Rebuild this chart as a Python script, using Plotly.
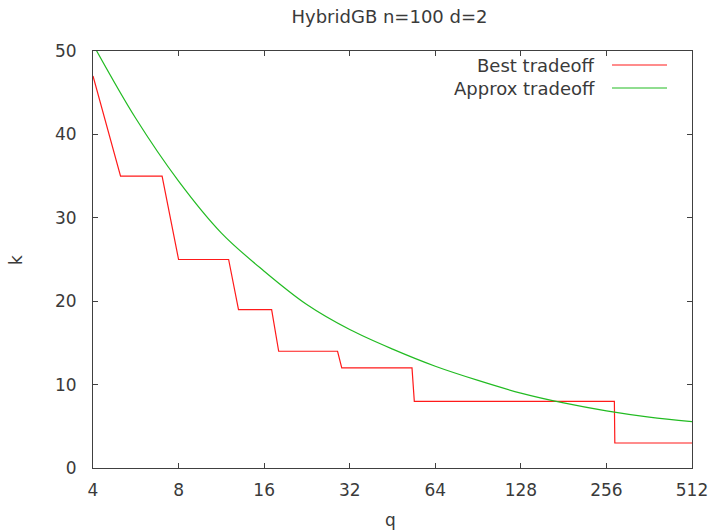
import plotly.graph_objects as go

# Best tradeoff (red step line)
best_q = [4, 5, 7, 8, 12, 13, 17, 18, 29, 30, 53, 54, 273, 274, 512]
best_k = [47, 35, 35, 25, 25, 19, 19, 14, 14, 12, 12, 8, 8, 3, 3]

# Approx tradeoff (green curve)
approx_q = [4, 5.66, 8, 11.3, 16, 22.6, 32, 45.3, 64, 90.5, 128, 181, 256, 362, 512]
approx_k = [50.8, 41.9, 34.4, 28.2, 23.6, 19.6, 16.6, 14.25, 12.2, 10.5, 8.98, 7.8, 6.85, 6.1, 5.55]

x_ticks = [4, 8, 16, 32, 64, 128, 256, 512]
x_tick_text = [str(v) for v in x_ticks]
y_ticks = [0, 10, 20, 30, 40, 50]

series_names = ["Best tradeoff", "Approx tradeoff"]
series_colors = ["#ff1a1a", "#22bb22"]

FONT = "DejaVu Sans"
TXT = "#3a3a3a"
AX = "#404040"

fig = go.Figure()
fig.add_trace(go.Scatter(x=best_q, y=best_k, mode="lines", name=series_names[0],
                         line=dict(color=series_colors[0], width=1.2), showlegend=False))
fig.add_trace(go.Scatter(x=approx_q, y=approx_k, mode="lines", name=series_names[1],
                         line=dict(color=series_colors[1], width=1.2, shape="spline", smoothing=1.0),
                         showlegend=False))

W, H = 711, 531
ml, mr, mt, mb = 93, 19, 51, 63
pw, ph = W - ml - mr, H - mt - mb

def px_x(px):
    return (px - ml) / pw

def px_y(py):
    return (H - mb - py) / ph

annotations = [
    dict(text="k", x=px_x(16), y=px_y(260), xref="paper", yref="paper", showarrow=False,
         textangle=-90, font=dict(family=FONT, size=17, color=TXT), xanchor="center", yanchor="middle"),
    dict(text="q", x=px_x(390.5), y=px_y(520), xref="paper", yref="paper", showarrow=False,
         font=dict(family=FONT, size=17, color=TXT), xanchor="center", yanchor="middle"),
]
shapes = []
legend_rows = [65, 88]
for name, color, ry in zip(series_names, series_colors, legend_rows):
    annotations.append(dict(text=name, x=px_x(597), y=px_y(ry), xref="paper", yref="paper",
                            showarrow=False, xanchor="right", yanchor="middle",
                            font=dict(family=FONT, size=18, color=TXT)))
    shapes.append(dict(type="line", xref="paper", yref="paper",
                       x0=px_x(612), x1=px_x(667), y0=px_y(ry), y1=px_y(ry),
                       line=dict(color=color, width=1.2)))

fig.update_layout(
    width=W, height=H,
    margin=dict(l=ml, r=mr, t=mt, b=mb, autoexpand=False),
    paper_bgcolor="white", plot_bgcolor="white",
    title=dict(text="HybridGB n=100 d=2", x=389.5 / W, xref="container", xanchor="center",
               y=1 - 16.5 / H, yref="container", yanchor="middle",
               font=dict(family=FONT, size=18, color=TXT)),
    annotations=annotations,
    shapes=shapes,
    xaxis=dict(type="log", range=[0.60206, 2.70927], tickvals=x_ticks, ticktext=x_tick_text,
               automargin=False,
               showgrid=False, zeroline=False, showline=True, linecolor=AX, linewidth=1,
               mirror="ticks", ticks="inside", ticklen=5, tickcolor=AX, tickwidth=1,
               tickfont=dict(family=FONT, size=17, color=TXT), ticklabelstandoff=7),
    yaxis=dict(range=[0, 50], tickvals=y_ticks, automargin=False,
               showgrid=False, zeroline=False, showline=True, linecolor=AX, linewidth=1,
               mirror="ticks", ticks="inside", ticklen=5, tickcolor=AX, tickwidth=1,
               tickfont=dict(family=FONT, size=17, color=TXT), ticklabelstandoff=12),
)

fig.write_html("out.html")
